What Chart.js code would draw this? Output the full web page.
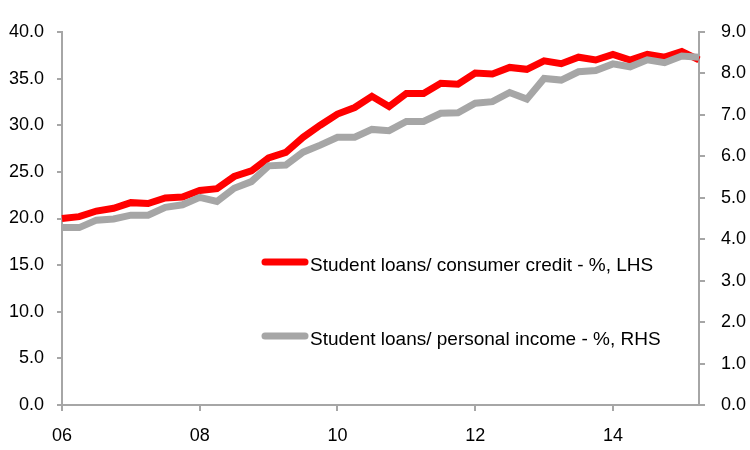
<!DOCTYPE html>
<html lang="en">
<head>
    <meta charset="UTF-8">
    <title>Student loans</title>
    <script src="https://cdn.jsdelivr.net/npm/chart.js"></script>
    <style>
        body { margin: 0; background: #fff; }
    </style>
</head>
<body>
    <canvas id="chart" width="750" height="450"></canvas>

    <script>
        // Quarterly, 2006Q1 .. 2015Q2
        const quarters = [
            '2006Q1','2006Q2','2006Q3','2006Q4','2007Q1','2007Q2','2007Q3','2007Q4',
            '2008Q1','2008Q2','2008Q3','2008Q4','2009Q1','2009Q2','2009Q3','2009Q4',
            '2010Q1','2010Q2','2010Q3','2010Q4','2011Q1','2011Q2','2011Q3','2011Q4',
            '2012Q1','2012Q2','2012Q3','2012Q4','2013Q1','2013Q2','2013Q3','2013Q4',
            '2014Q1','2014Q2','2014Q3','2014Q4','2015Q1','2015Q2'
        ];
        // Student loans / consumer credit, % (left axis)
        const consumerCredit = [
            20.0, 20.2, 20.8, 21.1, 21.7, 21.6, 22.2, 22.3,
            23.0, 23.2, 24.5, 25.1, 26.5, 27.1, 28.7, 30.0,
            31.2, 31.9, 33.1, 32.0, 33.4, 33.4, 34.5, 34.4,
            35.6, 35.5, 36.2, 36.0, 36.9, 36.6, 37.3, 37.0,
            37.6, 37.0, 37.6, 37.3, 37.9, 37.0
        ];
        // Student loans / personal income, % (right axis)
        const personalIncome = [
            4.28, 4.28, 4.46, 4.49, 4.58, 4.58, 4.77, 4.83,
            5.01, 4.91, 5.23, 5.39, 5.77, 5.79, 6.10, 6.27,
            6.46, 6.46, 6.65, 6.62, 6.84, 6.84, 7.04, 7.05,
            7.28, 7.32, 7.54, 7.38, 7.88, 7.84, 8.04, 8.07,
            8.23, 8.16, 8.33, 8.26, 8.42, 8.39
        ];
        const seriesLabels = [
            'Student loans/ consumer credit - %, LHS',
            'Student loans/ personal income - %, RHS'
        ];

        const axisGray = '#a6a6a6';
        const tickFont = { family: 'Liberation Sans', size: 18 };

        // Legend drawn inside the plot, as in the original
        const innerLegend = {
            id: 'innerLegend',
            afterDraw(chart) {
                const ctx = chart.ctx;
                const rows = [262, 336];
                ctx.save();
                chart.data.datasets.forEach((ds, i) => {
                    const y = rows[i];
                    ctx.strokeStyle = ds.borderColor;
                    ctx.lineWidth = 7;
                    ctx.lineCap = 'round';
                    ctx.beginPath();
                    ctx.moveTo(265, y);
                    ctx.lineTo(305, y);
                    ctx.stroke();
                    ctx.fillStyle = '#000';
                    ctx.font = '19px "Liberation Sans"';
                    ctx.textBaseline = 'alphabetic';
                    ctx.textAlign = 'left';
                    ctx.fillText(ds.label, 310, y + 9);
                });
                ctx.restore();
            }
        };

        new Chart(document.getElementById('chart'), {
            type: 'line',
            data: {
                labels: quarters,
                datasets: [
                    { label: seriesLabels[0], data: consumerCredit, yAxisID: 'y',
                      borderColor: '#ff0000', borderWidth: 7, pointRadius: 0, order: 2, tension: 0 },
                    { label: seriesLabels[1], data: personalIncome, yAxisID: 'y2',
                      borderColor: '#a6a6a6', borderWidth: 7, pointRadius: 0, order: 1, tension: 0 }
                ]
            },
            options: {
                responsive: false,
                animation: false,
                devicePixelRatio: 1,
                layout: { padding: { top: 32, left: 0, right: 0, bottom: 0 } },
                plugins: { legend: { display: false }, tooltip: { enabled: false } },
                scales: {
                    x: {
                        offset: false,
                        border: { color: axisGray, width: 2 },
                        grid: {
                            drawOnChartArea: false, tickLength: 6, lineWidth: 2,
                            tickColor: c => (c.index % 8 === 0 ? axisGray : 'transparent')
                        },
                        ticks: {
                            autoSkip: false, maxRotation: 0, padding: 14,
                            color: '#000', font: tickFont,
                            callback: function (v, i) {
                                const q = quarters[i];
                                return i % 8 === 0 ? q.slice(2, 4) : '';
                            }
                        },
                        afterFit: s => { s.height = 45; }
                    },
                    y: {
                        position: 'left', min: 0, max: 40,
                        border: { color: axisGray, width: 2 },
                        grid: { drawOnChartArea: false, tickLength: 5, lineWidth: 2, color: axisGray },
                        ticks: { stepSize: 5, padding: 13, color: '#000', font: tickFont,
                                 callback: v => v.toFixed(1) },
                        afterFit: s => { s.width = 62; }
                    },
                    y2: {
                        position: 'right', min: 0, max: 9,
                        border: { color: axisGray, width: 2 },
                        grid: { drawOnChartArea: false, tickLength: 6, lineWidth: 2, color: axisGray },
                        ticks: { stepSize: 1, padding: 16, color: '#000', font: tickFont,
                                 callback: v => v.toFixed(1) },
                        afterFit: s => { s.width = 51; }
                    }
                }
            },
            plugins: [innerLegend]
        });
    </script>
</body>
</html>
